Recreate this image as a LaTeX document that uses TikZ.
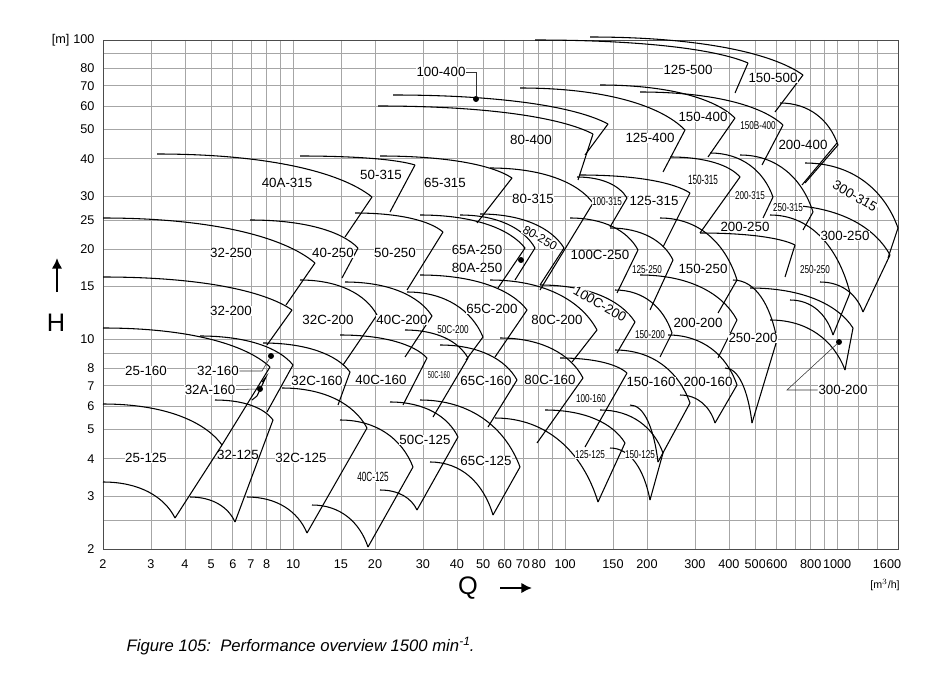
\documentclass[tikz,border=0pt]{standalone}
\usepackage{fontspec}
\setmainfont{Liberation Sans}
\usetikzlibrary{arrows.meta}
\begin{document}
\begin{tikzpicture}[x=0.75pt,y=-0.75pt,
  grid/.style={gray!70,line width=0.5pt},
  crv/.style={black,line width=0.8pt},
  lab/.style={font=\fontsize{10}{12}\selectfont,fill=white,inner sep=0.5pt},
  sml/.style={font=\fontsize{8.5}{9}\selectfont,fill=white,inner sep=0.3pt,xscale=0.72},
  ax/.style={font=\fontsize{9.5}{11}\selectfont,fill=white,inner sep=1pt},
  dot/.style={circle,fill=black,inner sep=0pt,minimum size=4.5pt}]
\useasboundingbox (0,0) rectangle (942,699);
\newcommand\pc[4]{\draw[crv] (#1,#2) .. controls ({#1+0.5*(#3-#1)},#2) and ({#1+0.85*(#3-#1)},{#2+0.4*(#4-#2)}) .. (#3,#4);}
\newcommand\tile[6]{\pc{#1}{#2}{#3}{#4}\draw[crv] (#3,#4) -- (#5,#6);}
% grid
\foreach \q in {2,3,4,5,6,7,8,9,10,15,20,30,40,50,60,70,80,90,100,150,200,300,400,500,600,700,800,900,1000,1200,1400}{
  \pgfmathsetmacro\xx{103+272*(ln(\q)/ln(10)-0.30103)}
  \draw[grid] (\xx,40) -- (\xx,549);}
\foreach \h in {2.5,3,4,5,6,7,8,9,10,15,20,25,30,40,50,60,70,80,90}{
  \pgfmathsetmacro\yy{549-300*(ln(\h)/ln(10)-0.30103)}
  \draw[grid] (103,\yy) -- (898,\yy);}
\draw[gray!60!black,line width=0.7pt] (103,40) rectangle (898,549);
% axis labels
\foreach \q/\t in {2/2,3/3,4/4,5/5,6/6,7/7,8/8,10/10,15/15,20/20,30/30,40/40,50/50,60/60,70/70,80/80,100/100,150/150,200/200,300/300,400/400,500/500,600/600,800/800,1000/1000}{
  \pgfmathsetmacro\xx{103+272*(ln(\q)/ln(10)-0.30103)}
  \node[ax] (qx\q) at (\xx,564) {\t};}
\node[ax] (qx1600) at (887,564) {1600};
\foreach \h/\t in {2/2,3/3,4/4,5/5,6/6,7/7,8/8,10/10,15/15,20/20,25/25,30/30,40/40,50/50,60/60,70/70,80/80,100/100}{
  \pgfmathsetmacro\yy{549-300*(ln(\h)/ln(10)-0.30103)}
  \node[ax,anchor=east] (hy\t) at (96,\yy) {\t};}
\node[ax,anchor=east] (munit) at (71,40) {[m]};
\node[font=\fontsize{8}{9}\selectfont] (qunit) at (885,585) {[m$^3$/h]};
\node[font=\fontsize{19}{22}\selectfont] (Q) at (468,588) {Q};
\coordinate (qa1) at (500,588); \coordinate (qa2) at (532,588);
\draw[line width=2.2pt,-{Latex[length=8pt,width=8pt]}] (qa1) -- (qa2);
\node[font=\fontsize{19}{22}\selectfont] (H) at (56,323) {H};
\coordinate (ha1) at (57,292); \coordinate (ha2) at (57,258);
\draw[line width=2.2pt,-{Latex[length=8pt,width=8pt]}] (ha1) -- (ha2);
\node[font=\itshape\fontsize{12.5}{15}\selectfont,anchor=west] (cap) at (122,646) {Figure 105:\ \ Performance overview 1500 min\raisebox{0.7ex}{\fontsize{9}{10}\selectfont -1}.};
% ---- tiles ----
% row 125
\tile{103}{404}{222}{445}{175}{518}\pc{103}{482}{175}{518}
\tile{215}{400}{273}{420}{235}{522}\pc{190}{497}{235}{522}
\tile{282}{388}{367}{428}{307}{533}\pc{247}{497}{307}{533}
\tile{340}{420}{413}{467}{368}{547}\pc{312}{505}{368}{547}
\tile{390}{402}{458}{437}{417}{510}\pc{380}{490}{417}{510}
\tile{420}{400}{520}{467}{493}{515}\pc{430}{462}{493}{515}
\tile{545}{410}{625}{443}{598}{502}\pc{495}{418}{598}{502}
\tile{600}{410}{663}{453}{650}{500}\pc{610}{448}{650}{500}
% row 160
\tile{103}{328}{270}{367}{222}{445}
\tile{200}{336}{293}{365}{267}{412}
\draw[crv] (262,382) -- (266,377) -- (257,396) -- (252,400);
\tile{263}{343}{350}{372}{338}{405}
\tile{340}{335}{427}{358}{403}{405}
\tile{405}{330}{468}{358}{433}{417}
\tile{440}{345}{517}{380}{488}{427}
\tile{500}{338}{583}{378}{537}{443}
\tile{560}{358}{627}{373}{585}{447}
\tile{615}{350}{690}{403}{658}{462}\pc{630}{405}{658}{462}
\tile{668}{335}{737}{385}{715}{423}\pc{680}{395}{715}{423}
% row 200
\tile{103}{277}{292}{310}{267}{345}
\tile{300}{280}{377}{315}{343}{365}
\tile{345}{282}{432}{316}{405}{357}
\tile{407}{292}{483}{337}{466}{360}
\tile{420}{275}{527}{310}{495}{357}
\tile{490}{280}{597}{330}{572}{362}
\tile{540}{285}{635}{322}{617}{353}
\tile{615}{290}{672}{333}{660}{357}
\tile{640}{275}{737}{320}{718}{358}
\tile{733}{280}{777}{340}{752}{423}\pc{725}{368}{752}{423}
\tile{750}{288}{853}{328}{845}{370}\pc{770}{320}{845}{370}
% row 250
\tile{103}{218}{315}{263}{286}{305}
\tile{250}{220}{358}{248}{342}{278}
\tile{355}{213}{443}{232}{407}{290}
\tile{420}{215}{525}{248}{498}{288}
\tile{460}{215}{535}{248}{515}{280}
\tile{480}{214}{564}{248}{540}{285}
\tile{570}{218}{638}{250}{617}{293}
\tile{610}{228}{673}{260}{650}{310}
\tile{660}{218}{737}{280}{718}{313}
\tile{700}{233}{795}{245}{785}{277}
\tile{770}{215}{850}{293}{833}{335}\pc{790}{300}{833}{335}
\tile{780}{205}{890}{255}{863}{312}\pc{820}{282}{863}{312}
% row 315
\tile{157}{154}{372}{197}{345}{237}
\tile{300}{156}{415}{165}{390}{212}
\tile{380}{156}{512}{178}{477}{223}
\tile{490}{168}{593}{203}{540}{290}
\tile{577}{177}{627}{198}{610}{227}
\tile{580}{175}{690}{193}{663}{247}
\tile{670}{157}{740}{177}{700}{233}
\tile{710}{153}{773}{197}{763}{218}
\tile{740}{155}{813}{212}{803}{230}
\tile{805}{163}{898}{228}{888}{258}
\draw[crv] (837,143) -- (802,185);
% row 400
\tile{393}{95}{608}{124}{585}{155}
\tile{378}{106}{593}{134}{578}{180}
\tile{520}{88}{685}{130}{663}{172}
\tile{600}{85}{735}{118}{708}{157}
\tile{640}{92}{783}{125}{762}{165}
\tile{780}{103}{838}{145}{805}{183}
% row 500
\tile{535}{40}{748}{63}{735}{93}
\tile{590}{37}{803}{75}{775}{112}
% ---- dots & leaders ----
\node[dot] (d1) at (476,99) {};
\node[dot] (d2) at (521,260) {};
\node[dot] (d3) at (271,356) {};
\node[dot] (d4) at (260,389) {};
\node[dot] (d5) at (839,342) {};
% ---- labels ----
\node[lab] (l100400) at (441,72) {100-400};
\coordinate (k1) at (476,72);
\draw[gray!40!black] (l100400) -- (k1) -- (d1);
\node[lab] (l125500) at (688,70) {125-500};
\node[lab] (l150500) at (773,78) {150-500};
\node[lab] (l150400) at (703,117) {150-400};
\node[sml] (l150B400) at (758,126) {150B-400};
\node[lab] (l125400) at (650,138) {125-400};
\node[lab] (l80400) at (531,140) {80-400};
\node[lab] (l200400) at (803,145) {200-400};
\node[lab] (l40A315) at (287,183) {40A-315};
\node[lab] (l50315) at (381,175) {50-315};
\node[lab] (l65315) at (445,183) {65-315};
\node[lab] (l80315) at (533,199) {80-315};
\node[sml] (l100315) at (607,202) {100-315};
\node[lab] (l125315) at (654,201) {125-315};
\node[sml,font=\fontsize{10}{11}\selectfont,xscale=0.85] (l150315) at (703,180) {150-315};
\node[sml] (l200315) at (750,196) {200-315};
\node[sml] (l250315) at (788,208) {250-315};
\node[lab,rotate=-30] (l300315) at (855,196) {300-315};
\node[lab] (l32250) at (231,253) {32-250};
\node[lab] (l40250) at (333,253) {40-250};
\node[lab] (l50250) at (395,253) {50-250};
\node[lab] (l65A250) at (477,250) {65A-250};
\node[lab] (l80A250) at (477,268) {80A-250};
\node[lab,font=\fontsize{9}{10}\selectfont,rotate=-30] (l80250) at (540,238) {80-250};
\node[lab] (l100C250) at (600,255) {100C-250};
\node[sml] (l125250) at (647,270) {125-250};
\node[lab] (l150250) at (703,269) {150-250};
\node[lab] (l200250) at (745,227) {200-250};
\node[sml] (l250250) at (815,270) {250-250};
\node[lab] (l300250) at (845,236) {300-250};
\node[lab] (l32200) at (231,311) {32-200};
\node[lab] (l32C200) at (328,320) {32C-200};
\node[lab] (l40C200) at (402,320) {40C-200};
\node[sml] (l50C200) at (453,330) {50C-200};
\node[lab] (l65C200) at (492,309) {65C-200};
\node[lab] (l80C200) at (557,320) {80C-200};
\node[lab,rotate=-30] (l100C200) at (600,304) {100C-200};
\node[sml] (l150200) at (650,335) {150-200};
\node[lab] (l200200) at (698,323) {200-200};
\node[lab] (l250200) at (753,338) {250-200};
\node[lab] (l25160) at (146,371) {25-160};
\node[lab] (l32160) at (218,371) {32-160};
\coordinate (k2) at (262,371);
\draw[gray!40!black] (l32160) -- (k2) -- (d3);
\node[lab] (l32A160) at (210,390) {32A-160};
\draw[gray!40!black] (l32A160) -- (d4);
\node[lab] (l32C160) at (317,381) {32C-160};
\node[lab] (l40C160) at (381,380) {40C-160};
\node[sml,xscale=0.8,font=\fontsize{7.5}{8}\selectfont] (l50C160) at (439,375) {50C-160};
\node[lab] (l65C160) at (486,381) {65C-160};
\node[lab] (l80C160) at (550,380) {80C-160};
\node[sml] (l100160) at (591,399) {100-160};
\node[lab] (l150160) at (651,382) {150-160};
\node[lab] (l200160) at (708,382) {200-160};
\node[lab] (l300200) at (843,390) {300-200};
\coordinate (k3) at (787,390);
\draw[gray!40!black] (l300200) -- (k3) -- (d5);
\node[lab] (l25125) at (146,458) {25-125};
\node[lab,fill=none] (l32125) at (238,455) {32-125};
\node[lab] (l32C125) at (301,458) {32C-125};
\node[sml,font=\fontsize{10}{11}\selectfont,xscale=0.85] (l40C125) at (373,477) {40C-125};
\node[lab] (l50C125) at (425,440) {50C-125};
\node[lab] (l65C125) at (486,461) {65C-125};
\node[sml] (l125125) at (590,455) {125-125};
\node[sml] (l150125) at (640,455) {150-125};
\end{tikzpicture}
\end{document}
